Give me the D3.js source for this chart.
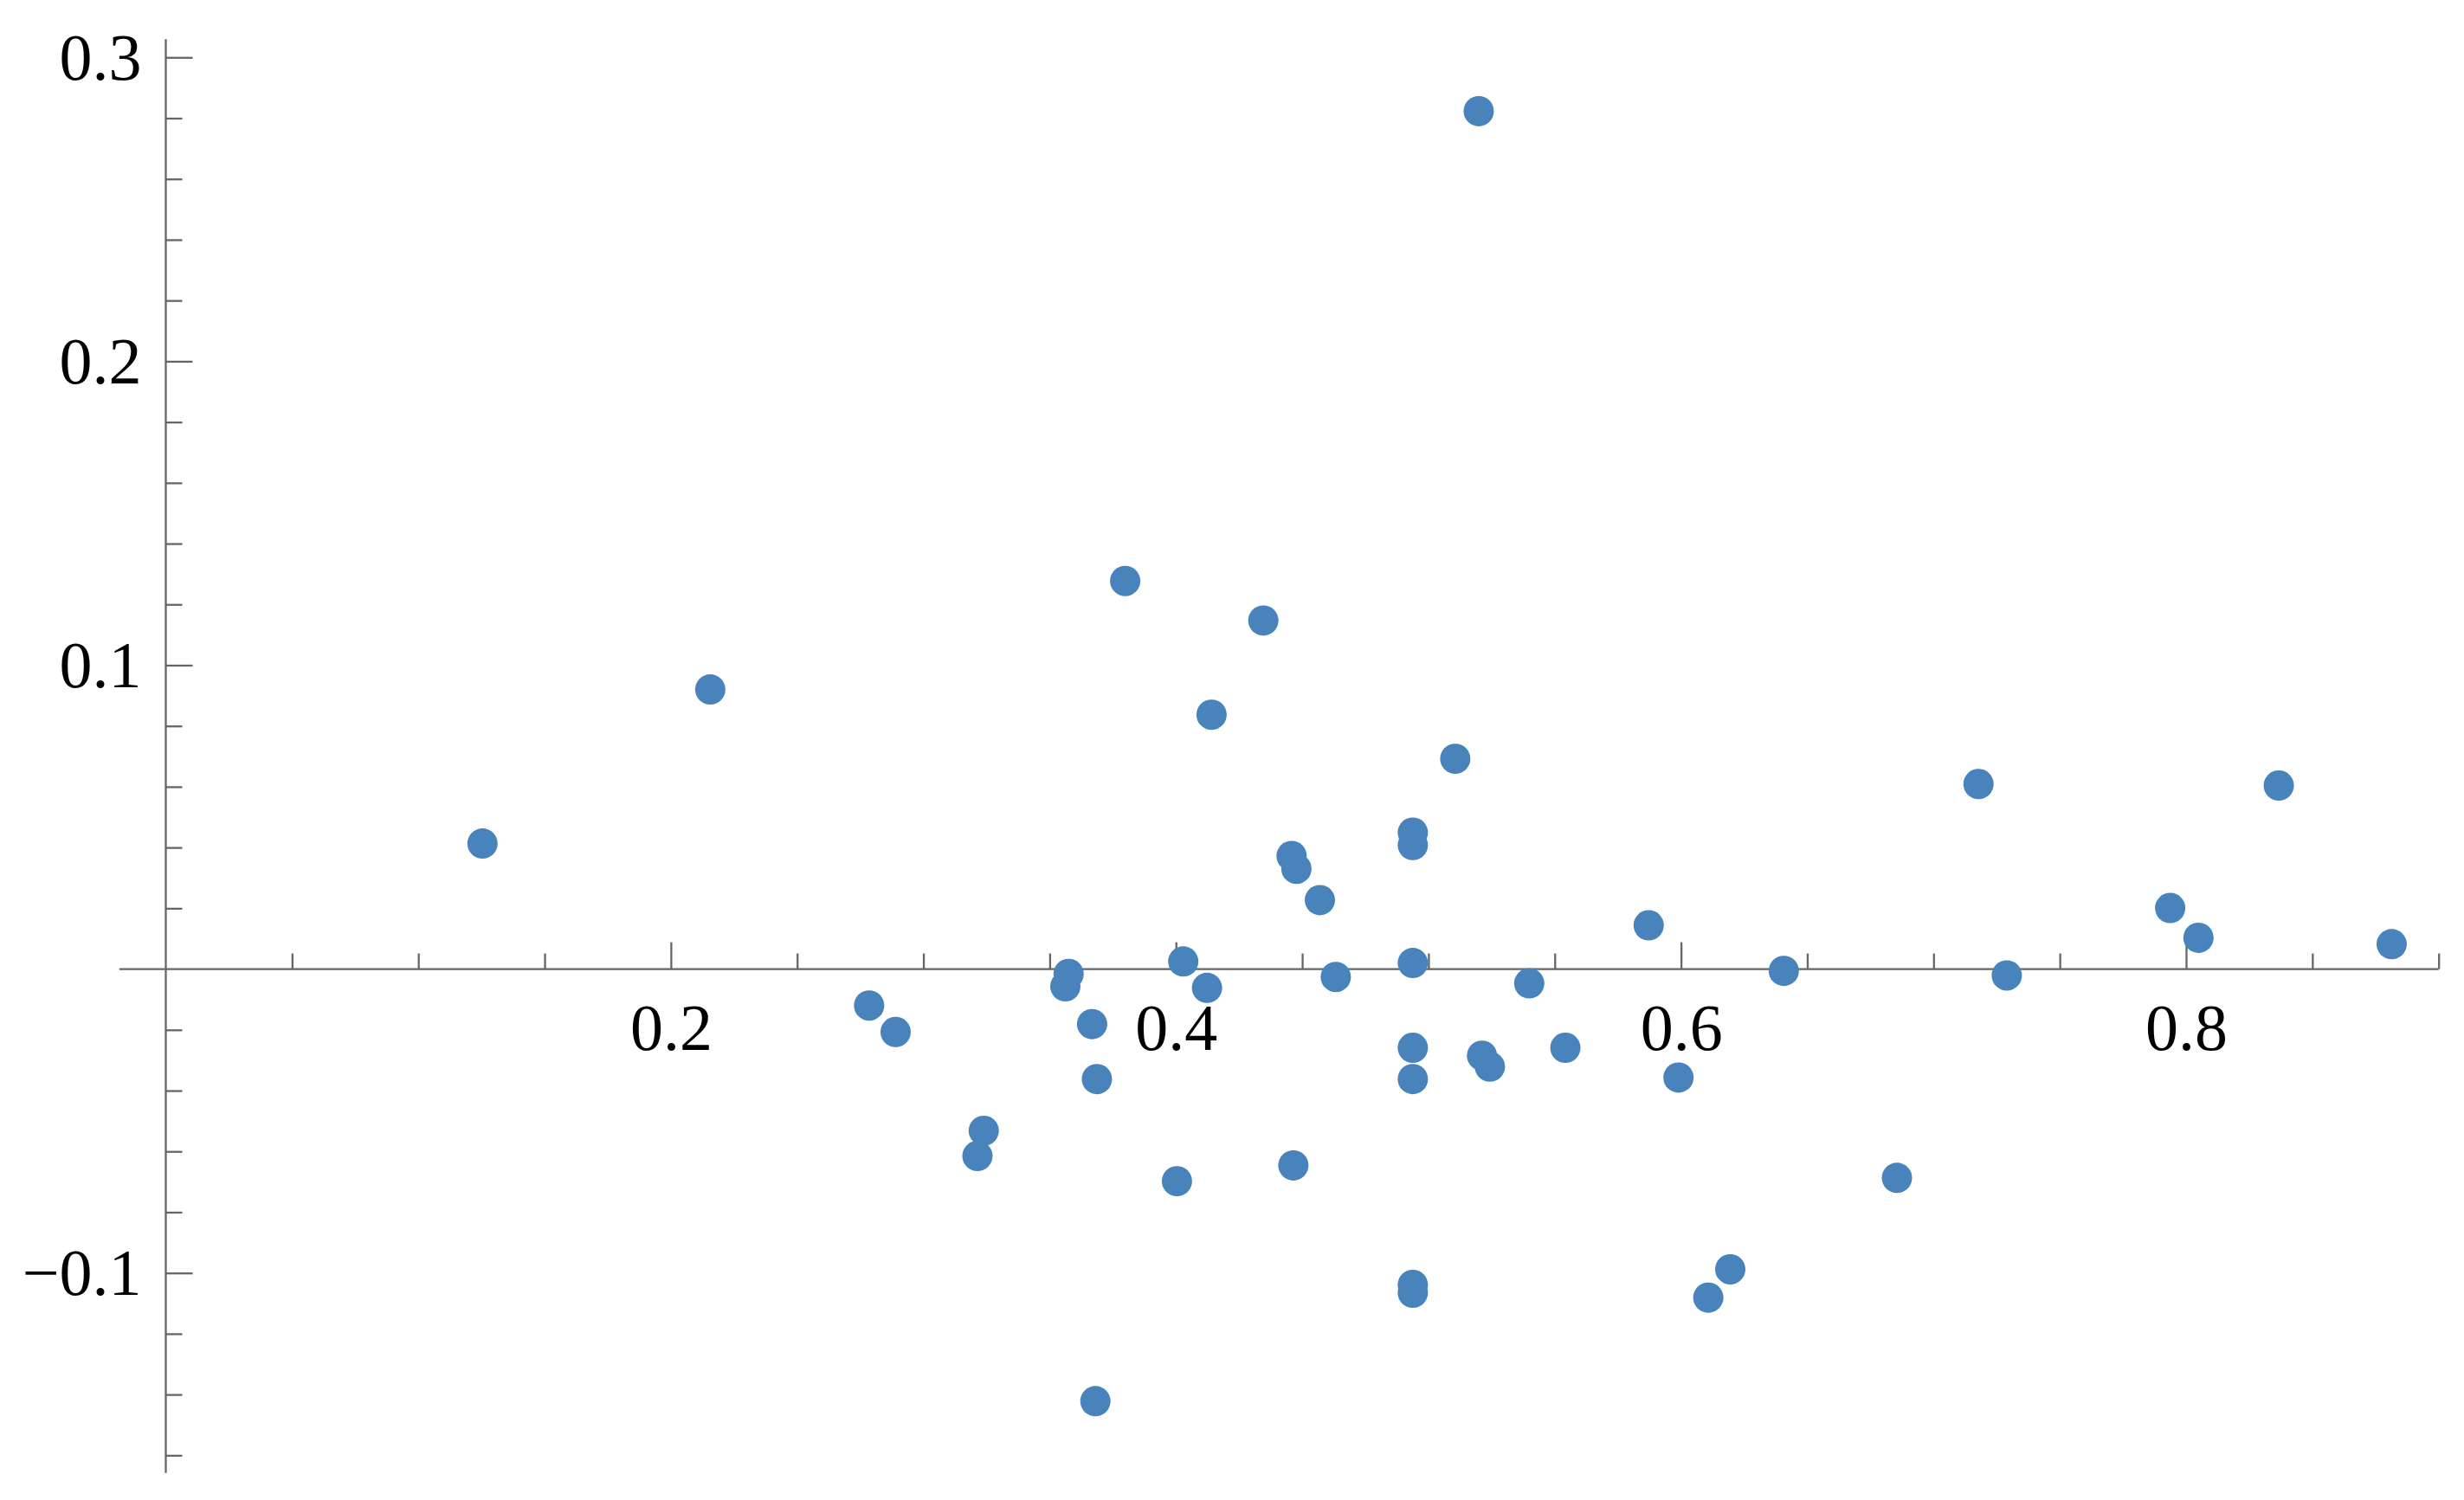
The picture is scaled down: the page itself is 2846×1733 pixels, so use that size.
<!DOCTYPE html>
<html>
<head>
<meta charset="utf-8">
<script src="https://cdn.jsdelivr.net/npm/d3@7"></script>
<style>
  html, body { margin: 0; padding: 0; background: #ffffff; }
  svg { display: block; }
</style>
</head>
<body>
<script>
// ---- data ----
const xValues = [0.1254, 0.2156, 0.2785, 0.2890, 0.3239, 0.3214, 0.3575, 0.3562, 0.3668, 0.3687,
  0.3681, 0.3799, 0.4029, 0.4123, 0.4004, 0.4141, 0.4346, 0.4458, 0.4477, 0.4570,
  0.4633, 0.4465, 0.4938, 0.4938, 0.4938, 0.4938, 0.4938, 0.4938, 0.4938, 0.5106,
  0.5199, 0.5212, 0.5243, 0.5399, 0.5542, 0.5872, 0.5990, 0.6108, 0.6195, 0.6407,
  0.6855, 0.7178, 0.7290, 0.7937, 0.8049, 0.8367, 0.8814];
const yValues = [0.0413, 0.0920, -0.0120, -0.0207, -0.0532, -0.0615, -0.0016, -0.0057, -0.0181, -0.0362,
  -0.1422, 0.1277, 0.0025, -0.0062, -0.0698, 0.0837, 0.1147, 0.0372, 0.0330, 0.0227,
  -0.0026, -0.0646, 0.0449, 0.0408, 0.0020, -0.0259, -0.0362, -0.1039, -0.1065, 0.0692,
  0.2823, -0.0285, -0.0321, -0.0047, -0.0259, 0.0144, -0.0357, -0.1081, -0.0988, -0.0006,
  -0.0687, 0.0609, -0.0021, 0.0201, 0.0103, 0.0604, 0.0082];
const xMajorTicks = [0.2, 0.4, 0.6, 0.8];
const xMinorTicks = [0.05, 0.1, 0.15, 0.25, 0.3, 0.35, 0.45, 0.5, 0.55, 0.65, 0.7, 0.75, 0.85, 0.9];
const yMajorTicks = [-0.1, 0.1, 0.2, 0.3];
const yMinorTicks = [-0.16, -0.14, -0.12, -0.08, -0.06, -0.04, -0.02, 0.02, 0.04, 0.06, 0.08,
  0.12, 0.14, 0.16, 0.18, 0.22, 0.24, 0.26, 0.28];
const xRange = [-0.0184, 0.9];
const yRange = [-0.1658, 0.306];

// ---- layout ----
const W = 2846, H = 1733;
const axisColor = "#666666";
const dotColor = "#4883bb";
const fontFamily = "'Liberation Serif', 'Times New Roman', serif";

const x = d3.scaleLinear().domain([0, 0.8]).range([191.5, 2525]);
const y = d3.scaleLinear().domain([0, 0.3]).range([1119.6, 66.3]);

const svg = d3.select("body").append("svg")
  .attr("width", W).attr("height", H)
  .attr("viewBox", `0 0 ${W} ${H}`);
svg.append("rect").attr("width", W).attr("height", H).attr("fill", "#ffffff");

const fmt = d3.format(".1f");

// x axis (ticks pointing up, labels below)
const gx = svg.append("g").attr("transform", `translate(0,${y(0)})`);
gx.append("g").call(d3.axisBottom(x).tickValues(xMinorTicks).tickSizeInner(-18).tickSizeOuter(0).tickFormat(""));
gx.append("g").call(d3.axisBottom(x).tickValues(xMajorTicks).tickSizeInner(-31).tickSizeOuter(0).tickPadding(39).tickFormat(fmt));
gx.selectAll(".domain").remove();
gx.append("line").attr("x1", x(xRange[0])).attr("x2", x(xRange[1])).attr("y1", 0).attr("y2", 0);

// y axis (ticks pointing right, labels left)
const gy = svg.append("g").attr("transform", `translate(${x(0)},0)`);
gy.append("g").call(d3.axisLeft(y).tickValues(yMinorTicks).tickSizeInner(-19).tickSizeOuter(0).tickFormat(""));
gy.append("g").call(d3.axisLeft(y).tickValues(yMajorTicks).tickSizeInner(-31).tickSizeOuter(0).tickPadding(28).tickFormat(fmt));
gy.selectAll(".domain").remove();
gy.append("line").attr("x1", 0).attr("x2", 0).attr("y1", y(yRange[0])).attr("y2", y(yRange[1]));

svg.selectAll("line").attr("stroke", axisColor).attr("stroke-width", 2.3);
svg.selectAll(".tick text")
  .attr("fill", "#000000")
  .style("font-family", fontFamily)
  .style("font-size", "76px");
gy.selectAll(".tick text").attr("dy", "0.33em");

// points
svg.append("g").selectAll("circle")
  .data(xValues.map((v, i) => [v, yValues[i]]))
  .join("circle")
  .attr("cx", d => x(d[0]))
  .attr("cy", d => y(d[1]))
  .attr("r", 17.5)
  .attr("fill", dotColor);
</script>
</body>
</html>
